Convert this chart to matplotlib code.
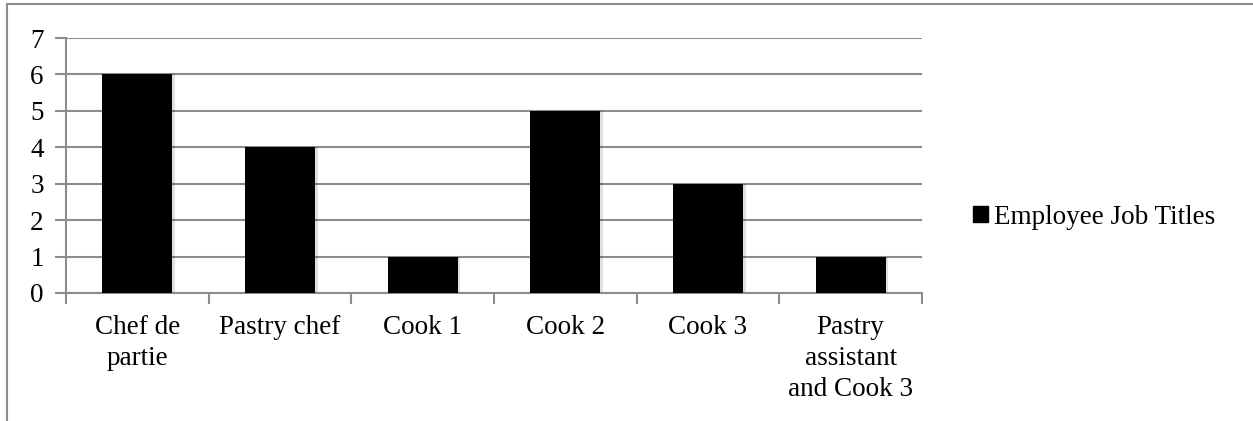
import matplotlib
matplotlib.use('Agg')
import matplotlib.pyplot as plt
from matplotlib.lines import Line2D
from matplotlib.patches import Patch
import numpy as np

plt.rcParams['font.family'] = ['Liberation Serif', 'DejaVu Serif']

categories = ['Chef de\npartie', 'Pastry chef', 'Cook 1', 'Cook 2', 'Cook 3',
              'Pastry\nassistant\nand Cook 3']
counts = [6, 4, 1, 5, 3, 1]
series_name = 'Employee Job Titles'
y_ticks = list(range(0, 8))

GRID = '#8c8c8c'
FS = 19.5

fig = plt.figure(figsize=(12.53, 4.21), dpi=100)
ax = fig.add_axes([66 / 1253, 1 - 293 / 421, (922 - 66) / 1253, (293 - 38) / 421])

x = np.arange(len(categories))
# soft drop shadow behind each bar
ax.bar(x + 0.015, counts, width=0.5, color='#000000', alpha=0.12, zorder=2)
ax.bar(x, counts, width=0.49, color='black', zorder=3, label=series_name)

ax.set_xlim(-0.5, len(categories) - 0.5)
ax.set_ylim(0, 7)
ax.set_yticks(y_ticks)
ax.yaxis.grid(True, color=GRID, linewidth=1.5)
ax.set_axisbelow(True)

# category boundaries carry the x ticks
ax.set_xticks(np.arange(-0.5, len(categories)), minor=False)
ax.set_xticklabels([])
ax.set_xticks(x, minor=True)
ax.set_xticklabels(categories, minor=True, fontsize=FS, linespacing=1.32)
ax.tick_params(axis='x', which='minor', length=0, pad=16)
ax.tick_params(axis='x', which='major', length=8, width=1.5, color=GRID)
ax.tick_params(axis='y', length=8, width=1.5, color=GRID, labelsize=FS, pad=8)
for lbl in ax.get_xticklabels(minor=True):
    lbl.set_verticalalignment('top')

for side in ('top', 'right'):
    ax.spines[side].set_visible(False)
for side in ('left', 'bottom'):
    ax.spines[side].set_color(GRID)
    ax.spines[side].set_linewidth(1.5)

handle = Patch(facecolor='black', edgecolor='black')
fig.legend([handle], [series_name], loc='center left',
           bbox_to_anchor=(962 / 1253, 1 - 217 / 421), frameon=False,
           fontsize=FS, handlelength=0.55, handleheight=0.55, handletextpad=0.25,
           borderpad=0.2, borderaxespad=0.2)

# outer chart frame
fig.add_artist(Line2D([7 / 1253, 1.0], [1 - 4 / 421, 1 - 4 / 421],
                      transform=fig.transFigure, color=GRID, linewidth=1.5))
fig.add_artist(Line2D([7 / 1253, 7 / 1253], [0.0, 1 - 4 / 421],
                      transform=fig.transFigure, color=GRID, linewidth=1.5))

fig.savefig('out.png', dpi=100)
